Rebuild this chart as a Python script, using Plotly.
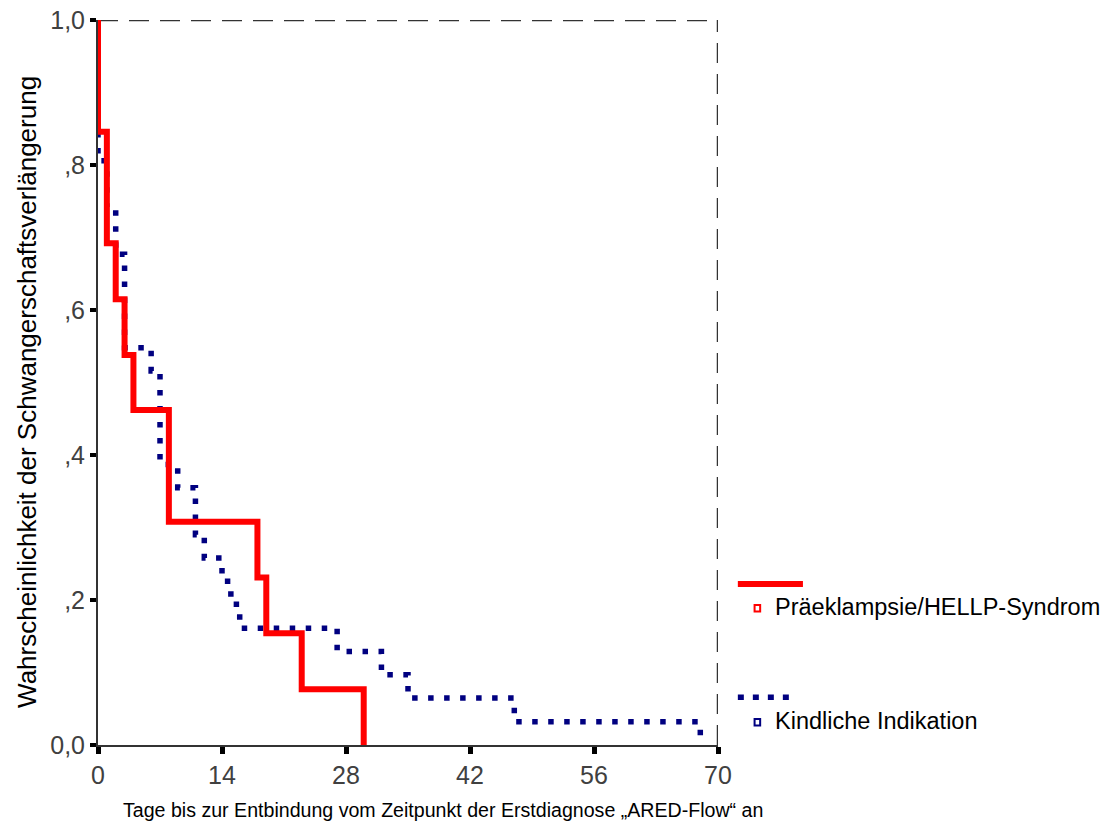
import plotly.graph_objects as go

# Kaplan-Meier steps (days, survival probability)
praeklampsie_tage = [0, 0, 1, 2, 3, 4, 8, 18, 19, 23, 30]
praeklampsie_wert = [1.0, 0.846, 0.692, 0.615, 0.538, 0.462, 0.308, 0.231, 0.154, 0.077, 0.0]

kindlich_tage = [0, 0, 1, 2, 3, 6, 7, 9, 11, 12, 14, 15, 16, 27, 32, 35, 47, 68]
kindlich_wert = [1.0, 0.806, 0.742, 0.677, 0.548, 0.516, 0.387, 0.355, 0.290, 0.258,
                 0.226, 0.194, 0.161, 0.129, 0.097, 0.065, 0.032, 0.0]

x_ticks = [0, 14, 28, 42, 56, 70]
y_ticks = [0, 0.2, 0.4, 0.6, 0.8, 1.0]
y_ticktext = ["0,0", ",2", ",4", ",6", ",8", "1,0"]

legend_names = ["Präeklampsie/HELLP-Syndrom", "Kindliche Indikation"]

RED = "#FF0000"
NAVY = "#000080"
FONT = "Arial, Liberation Sans, sans-serif"

fig = go.Figure()

fig.add_trace(go.Scatter(
    x=kindlich_tage, y=kindlich_wert,
    mode="lines", line_shape="hv",
    line=dict(color=NAVY, width=5.5, dash="5.5px,10.5px"),
    name=legend_names[1], showlegend=False
))

fig.add_trace(go.Scatter(
    x=praeklampsie_tage, y=praeklampsie_wert,
    mode="lines", line_shape="hv",
    line=dict(color=RED, width=6),
    name=legend_names[0], showlegend=False
))

shapes = [
    # dashed top and right frame
    dict(type="line", xref="x", yref="y", x0=0, x1=70, y0=1, y1=1,
         line=dict(color="#333333", width=2.5, dash="20px,11px"), layer="below"),
    dict(type="line", xref="x", yref="y", x0=70, x1=70, y0=0, y1=1,
         line=dict(color="#333333", width=2.5, dash="20px,11px"), layer="below"),
    # legend samples
    dict(type="line", xref="paper", yref="paper", x0=1.032, x1=1.137, y0=0.222, y1=0.222,
         line=dict(color=RED, width=6)),
    dict(type="rect", xref="paper", yref="paper", x0=1.059, x1=1.068, y0=0.184, y1=0.193,
         line=dict(color=RED, width=2), fillcolor="white"),
    dict(type="line", xref="paper", yref="paper", x0=1.032, x1=1.128, y0=0.066, y1=0.066,
         line=dict(color=NAVY, width=5.5, dash="6px,9px")),
    dict(type="rect", xref="paper", yref="paper", x0=1.059, x1=1.068, y0=0.027, y1=0.036,
         line=dict(color=NAVY, width=2), fillcolor="white"),
]

annotations = [
    dict(text=legend_names[0], xref="paper", yref="paper", x=1.088, y=0.190,
         xanchor="left", yanchor="middle", showarrow=False,
         font=dict(size=23.5, color="black", family=FONT)),
    dict(text=legend_names[1], xref="paper", yref="paper", x=1.088, y=0.033,
         xanchor="left", yanchor="middle", showarrow=False,
         font=dict(size=23.5, color="black", family=FONT)),
    dict(text="Tage bis zur Entbindung vom Zeitpunkt der Erstdiagnose „ARED-Flow“ an",
         xref="paper", yref="paper", x=0.556, y=-0.0897,
         xanchor="center", yanchor="middle", showarrow=False,
         font=dict(size=19.6, color="black", family=FONT)),
    dict(text="Wahrscheinlichkeit der Schwangerschaftsverlängerung",
         xref="paper", yref="paper", x=-0.1145, y=0.487, textangle=-90,
         xanchor="center", yanchor="middle", showarrow=False,
         font=dict(size=26, color="black", family=FONT)),
]

fig.update_layout(
    width=1110, height=825,
    margin=dict(l=98, r=392, t=20, b=80, autoexpand=False),
    paper_bgcolor="white", plot_bgcolor="white",
    font=dict(family=FONT, size=18, color="#333333"),
    showlegend=False,
    shapes=shapes,
    annotations=annotations,
    xaxis=dict(
        range=[0, 70], tickvals=x_ticks, ticks="outside", ticklen=7, tickwidth=5,
        tickcolor="black", showline=True, linecolor="#333333", linewidth=2,
        showgrid=False, zeroline=False, layer="below traces", ticklabeloverflow="allow",
        automargin=False, tickfont=dict(size=25, color="#404040")
    ),
    yaxis=dict(
        range=[0, 1], tickvals=y_ticks, ticktext=y_ticktext, ticks="outside", ticklen=6,
        tickwidth=4, tickcolor="black", showline=True, linecolor="#333333", linewidth=2,
        showgrid=False, zeroline=False, layer="below traces", ticklabeloverflow="allow",
        automargin=False, tickfont=dict(size=25, color="#404040")
    ),
)

# drop the browser's default body margin so the figure fills the window exactly
fig.write_html("out.html", config={"displayModeBar": False},
               post_script="document.body.style.margin = '0px';")
